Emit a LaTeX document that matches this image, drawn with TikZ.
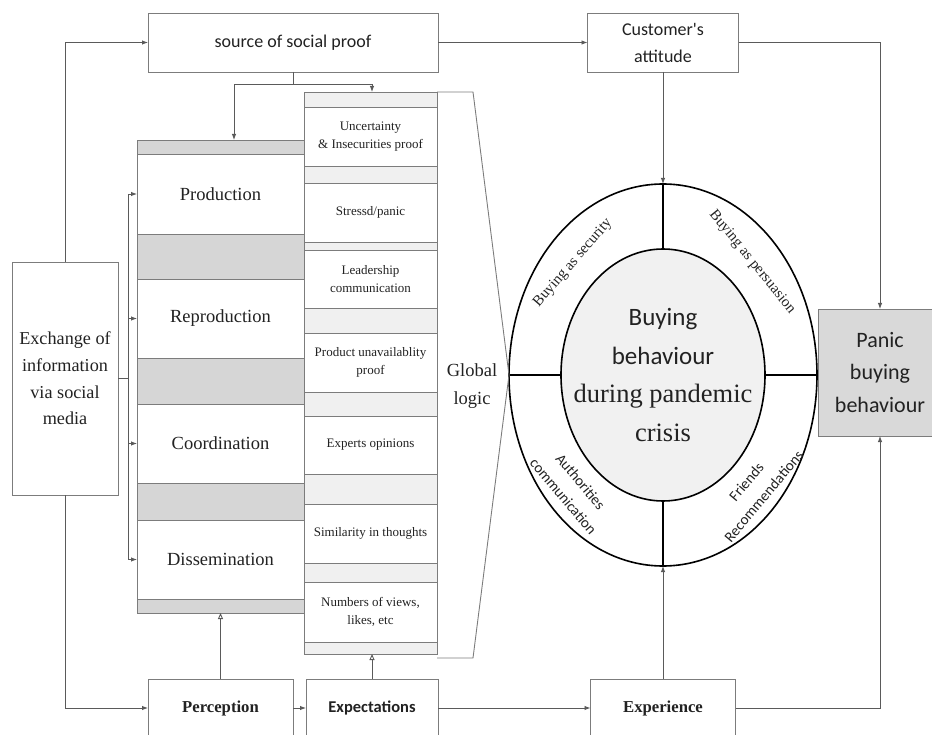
\documentclass[tikz,border=0pt]{standalone}
\usepackage{fontspec}
\setmainfont{Liberation Serif}
\newfontfamily\carl{Carlito}
\usetikzlibrary{arrows.meta,shapes.geometric}
\definecolor{bordc}{HTML}{7C7C7C}
\definecolor{linec}{HTML}{5A5A5A}
\definecolor{gapdark}{HTML}{D6D6D6}
\definecolor{gaplight}{HTML}{F0F0F0}
\definecolor{innerc}{HTML}{F1F1F1}
\definecolor{panicc}{HTML}{D9D9D9}
\definecolor{txtc}{HTML}{222222}
\begin{document}
\begin{tikzpicture}[x=1pt,y=-1pt,
  every node/.style={text=txtc},
  box/.style={draw=bordc, line width=0.9pt, fill=white, inner sep=1pt, outer sep=0pt, align=center},
  lnk/.style={draw=linec, line width=0.9pt},
  arr/.style={lnk, -{Latex[length=6pt,width=4.5pt]}},
  harr/.style={lnk, -{Triangle[open,length=6pt,width=5pt]}},
  ringl/.style={draw=black, line width=1.6pt},
  lefttxt/.style={font=\fontsize{18.5}{22}\selectfont},
  midtxt/.style={font=\fontsize{13}{18.5}\selectfont},
  sanstop/.style={font=\carl\fontsize{18}{27}\selectfont},
  botserif/.style={font=\bfseries\fontsize{16.7}{20}\selectfont},
  ringserif/.style={font=\rmfamily\fontsize{15}{18}\selectfont},
  ringsans/.style={font=\carl\fontsize{15}{22.5}\selectfont, align=center}]
\path[use as bounding box] (0,0) rectangle (932,735);
\clip (0,0) rectangle (932,735);

% top boxes
\node[box, sanstop, minimum width=290, minimum height=59] (src) at (293,42.5) {source of social proof};
\node[box, sanstop, minimum width=151, minimum height=59] (cust) at (663,42.5) {Customer's\\attitude};

% exchange box
\node[box, minimum width=106, minimum height=233, font=\fontsize{18.2}{26.7}\selectfont] (exch) at (65,378.5) {Exchange of\\information\\via social\\media};

% left column
\node[box, fill=gapdark, minimum width=167, minimum height=473] (leftcol) at (220.5,376.5) {};
\node[box, lefttxt, minimum width=167, minimum height=80] (prod) at (220.5,194) {Production};
\node[box, lefttxt, minimum width=167, minimum height=79] (repr) at (220.5,318.5) {Reproduction};
\node[box, lefttxt, minimum width=167, minimum height=79] (coor) at (220.5,443.5) {Coordination};
\node[box, lefttxt, minimum width=167, minimum height=79] (diss) at (220.5,559.5) {Dissemination};

% middle column
\node[box, fill=gaplight, minimum width=133, minimum height=562] (midcol) at (370.5,373) {};
\node[box, midtxt, minimum width=133, minimum height=59] (unc) at (370.5,136.5) {Uncertainty\\\& Insecurities proof};
\node[box, midtxt, minimum width=133, minimum height=59] (stre) at (370.5,212.5) {Stressd/panic};
\node[box, midtxt, minimum width=133, minimum height=58] (lead) at (370.5,279) {Leadership\\communication};
\node[box, midtxt, minimum width=133, minimum height=59] (prun) at (370.5,362.5) {Product unavailablity\\proof};
\node[box, midtxt, minimum width=133, minimum height=58] (expo) at (370.5,445) {Experts opinions};
\node[box, midtxt, minimum width=133, minimum height=59] (simi) at (370.5,533.5) {Similarity in thoughts};
\node[box, midtxt, minimum width=133, minimum height=60] (numv) at (370.5,612) {Numbers of views,\\likes, etc};

% ring
\node[ellipse, ringl, minimum width=308, minimum height=382, inner sep=0pt, outer sep=0pt] (outer) at (663,375) {};
\node[ellipse, ringl, fill=innerc, minimum width=204, minimum height=252, inner sep=0pt, outer sep=0pt] (inner) at (663,375) {};
\draw[ringl] (outer.north) -- (inner.north);
\draw[ringl] (inner.south) -- (outer.south);
\draw[ringl] (outer.west) -- (inner.west);
\draw[ringl] (inner.east) -- (outer.east);
\node[align=center, font=\fontsize{25}{38.5}\selectfont] (ctext) at (663,375)
  {{\carl Buying}\\{\carl behaviour}\\{\fontsize{26.5}{38.5}\selectfont during pandemic}\\{\fontsize{26.5}{38.5}\selectfont crisis}};
\node[ringserif, rotate=49] (lsec) at (573,263) {Buying as security};
\node[ringserif, rotate=-51] (lper) at (752,262) {Buying as persuasion};
\node[ringsans, rotate=-50] (lauth) at (572,489) {Authorities\\communication};
\node[ringsans, rotate=50] (lfri) at (755,489) {Friends\\Recommendations};

% global logic
\coordinate (gt) at (473,92);
\coordinate (gb) at (473,658);
\coordinate (gbl) at (437,658);
\draw[draw=bordc, line width=0.9pt] (midcol.north east) -- (gt) -- (outer.west) -- (gb) -- (gbl);
\node[align=center, font=\fontsize{18.5}{28}\selectfont] (glog) at (472,386) {Global\\logic};

% panic box
\node[box, fill=panicc, minimum width=124, minimum height=127, font=\carl\fontsize{22}{32.5}\selectfont] (panic) at (880,372.5) {Panic\\buying\\behaviour};

% bottom boxes
\node[box, botserif, minimum width=145, minimum height=58] (perc) at (220.5,708) {Perception};
\node[box, font=\carl\bfseries\fontsize{16.5}{20}\selectfont, minimum width=132, minimum height=58] (expe) at (372,708) {Expectations};
\node[box, botserif, minimum width=145, minimum height=58] (expr) at (663,708) {Experience};

% connectors
\draw[arr] (exch.north) |- (src.west);
\draw[arr] (src.east) -- (cust.west);
\draw[arr] (cust.east) -| (panic.north);
\draw[arr] (cust.south) -- (outer.north);
\draw[arr] (expr.north) -- (outer.south);
\draw[arr] (expr.east) -| (panic.south);
\draw[arr] (exch.south) |- (perc.west);
\draw[arr] (perc.east) -- (expe.west);
\draw[arr] (expe.east) -- (expr.west);
\draw[harr] (perc.north) -- (leftcol.south);
\draw[harr] (expe.north) -- (expe.north |- midcol.south);
\coordinate (sp) at (293,84);
\draw[lnk] (src.south) -- (sp);
\draw[arr] (sp) -| ([xshift=13.5pt]leftcol.north);
\draw[arr] (sp) -| ([xshift=1.5pt]midcol.north);
\coordinate (bk) at (128,378.5);
\draw[lnk] (exch.east) -- (bk);
\draw[arr] (bk) |- (prod.west);
\draw[arr] (bk) |- (repr.west);
\draw[arr] (bk) |- (coor.west);
\draw[arr] (bk) |- (diss.west);
\end{tikzpicture}
\end{document}
